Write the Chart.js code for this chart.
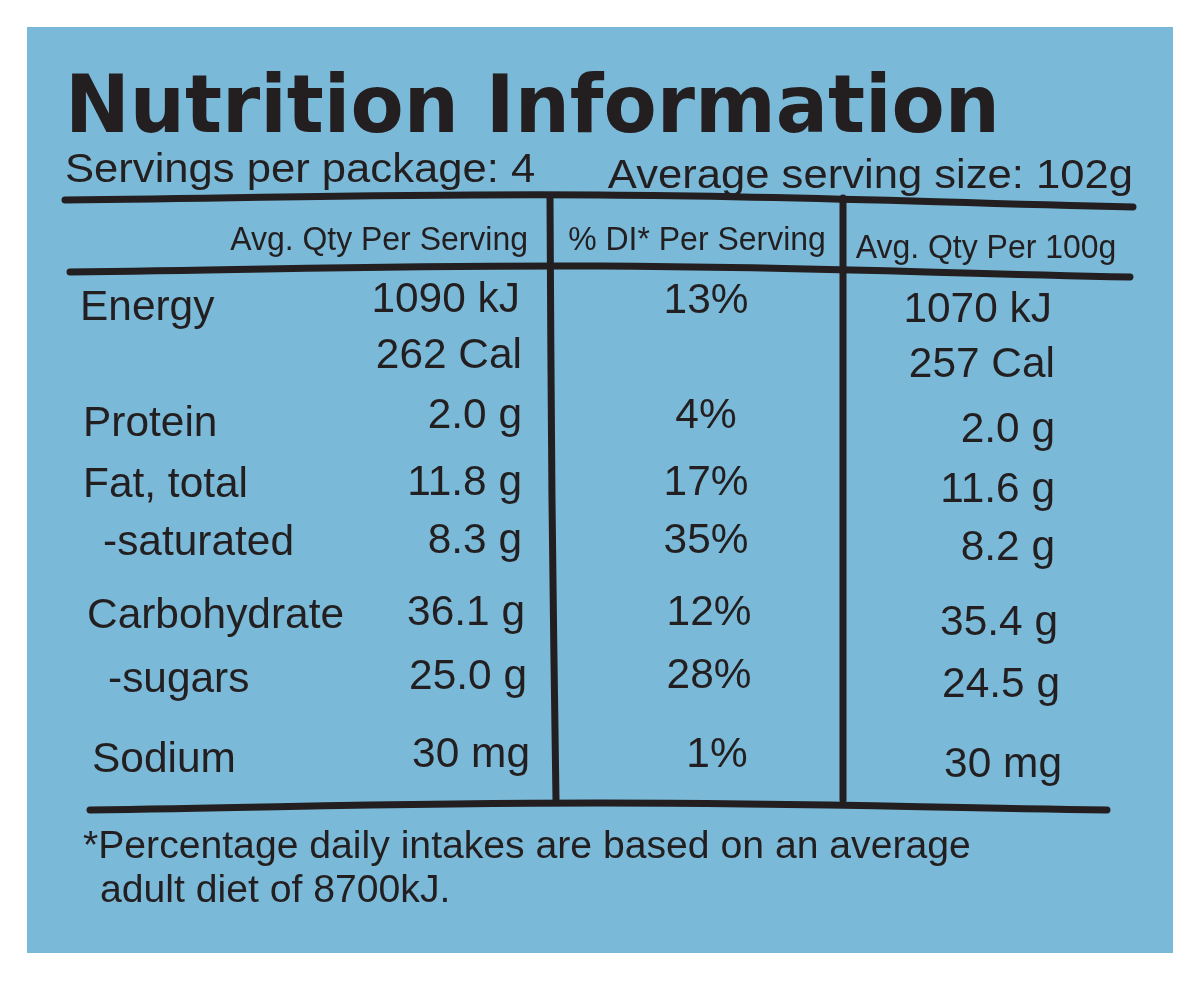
<!DOCTYPE html>
<html><head><meta charset="utf-8">
<script src="https://cdn.jsdelivr.net/npm/chart.js@4"></script>
<style>html,body{margin:0;padding:0;background:#fff}#w{width:1200px;height:981px}</style>
</head><body><div id="w"><canvas id="c"></canvas></div>
<script>
const title = "Nutrition Information";
const servingsText = "Servings per package: 4";
const servingSizeText = "Average serving size: 102g";
const headers = ["Avg. Qty Per Serving", "% DI* Per Serving", "Avg. Qty Per 100g"];
const nutrients = ["Energy", "", "Protein", "Fat, total", "-saturated", "Carbohydrate", "-sugars", "Sodium"];
const perServing = ["1090 kJ", "262 Cal", "2.0 g", "11.8 g", "8.3 g", "36.1 g", "25.0 g", "30 mg"];
const diPercent = ["13%", "", "4%", "17%", "35%", "12%", "28%", "1%"];
const per100g = ["1070 kJ", "257 Cal", "2.0 g", "11.6 g", "8.2 g", "35.4 g", "24.5 g", "30 mg"];
const footnote = ["*Percentage daily intakes are based on an average", "adult diet of 8700kJ."];

const rowLabel = [[80,320],[0,0],[83,436],[83,497],[103,555],[87,628],[108,692],[92,772]];
const rowServ = [[520,312],[522,368],[522,428],[522,495],[522,553],[525,625],[527,689],[530,767]];
const rowDI = [[706,313],[0,0],[706,428],[706,495],[706,553],[709,625],[709,688],[717,767]];
const row100 = [[1052,322],[1055,377],[1055,442],[1055,502],[1055,560],[1058,635],[1060,697],[1062,777]];

const INK = '#231f20';
function line(pts){return {type:'line',data:pts.map(p=>({x:p[0],y:p[1]})),borderColor:INK,borderWidth:7,pointRadius:0,tension:0.4,fill:false,borderCapStyle:'round'};}

const textPlugin = {
  id:'txt',
  beforeDatasetsDraw(chart){
    const {ctx, scales:{x,y}} = chart;
    ctx.save();
    ctx.fillStyle='#fff'; ctx.fillRect(0,0,chart.width,chart.height);
    ctx.fillStyle='#7ab9d8';
    ctx.fillRect(x.getPixelForValue(27),y.getPixelForValue(27),x.getPixelForValue(1173)-x.getPixelForValue(27),y.getPixelForValue(953)-y.getPixelForValue(27));
    ctx.restore();
  },
  afterDatasetsDraw(chart){
    const {ctx, scales:{x,y}} = chart;
    function t(s,px,py,size,align,sx,weight,fam){
      if(!s) return;
      ctx.save();
      ctx.font=(weight||'normal')+' '+size+'px '+(fam||'"Liberation Sans", Arial, sans-serif');
      ctx.fillStyle=INK; ctx.textBaseline='alphabetic';
      const X=x.getPixelForValue(px), Y=y.getPixelForValue(py);
      ctx.translate(X,Y); ctx.scale(sx,1);
      ctx.textAlign=align; ctx.fillText(s,0,0);
      ctx.restore();
    }
    const TF='"DejaVu Sans", sans-serif';
    ctx.save(); ctx.font='bold 80px '+TF;
    const w=ctx.measureText(title).width; ctx.restore();
    t(title,65,132,80,'left',935/w,'bold',TF);
    t(servingsText,65,182,40,'left',1.09);
    t(servingSizeText,1133,188,40,'right',1.09);
    t(headers[0],528,250,34,'right',0.94);
    t(headers[1],697,250,34,'center',0.94);
    t(headers[2],986,258,34,'center',0.94);
    for(let i=0;i<nutrients.length;i++){
      t(nutrients[i],rowLabel[i][0],rowLabel[i][1],42,'left',1.01);
      t(perServing[i],rowServ[i][0],rowServ[i][1],42,'right',1.01);
      t(diPercent[i],rowDI[i][0],rowDI[i][1],42,'center',1.01);
      t(per100g[i],row100[i][0],row100[i][1],42,'right',1.01);
    }
    t(footnote[0],83,858,38,'left',1.03);
    t(footnote[1],100,902,38,'left',1.03);
  }
};

new Chart(document.getElementById('c'),{
  type:'scatter',
  data:{datasets:[
    line([[65,200],[600,195],[1133,207]]),
    line([[70,272],[600,266],[1130,277]]),
    line([[550,198],[552,500],[556,800]]),
    line([[843,198],[843,500],[843,800]]),
    line([[90,810],[600,803],[1107,810]])
  ]},
  options:{
    responsive:true,maintainAspectRatio:false,animation:false,
    layout:{padding:0},
    plugins:{legend:{display:false},tooltip:{enabled:false}},
    scales:{
      x:{type:'linear',min:0,max:1200,display:false},
      y:{type:'linear',min:0,max:981,reverse:true,display:false}
    }
  },
  plugins:[textPlugin]
});
</script></body></html>
